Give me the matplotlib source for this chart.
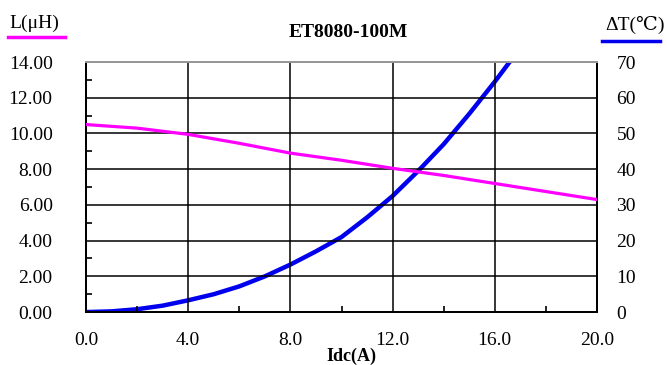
import numpy as np
import matplotlib.pyplot as plt
from matplotlib.lines import Line2D

plt.rcParams['font.family'] = ['Liberation Serif', 'DejaVu Serif']

# inductance curve (left axis)
idc_l = [0, 2, 4, 6, 8, 10, 12, 14, 16, 18, 20]
induct = [10.5, 10.3, 9.95, 9.45, 8.9, 8.5, 8.05, 7.65, 7.2, 6.75, 6.3]

# temperature rise curve (right axis)
idc_t = [0, 1, 2, 3, 4, 5, 6, 7, 8, 9, 10, 11, 12, 13, 14, 15, 16, 17]
temp = [0, 0.2, 0.8, 1.8, 3.3, 5.0, 7.2, 10.0, 13.3, 17.0, 21.0, 26.5,
        32.5, 39.5, 47.0, 55.5, 64.5, 74.0]

x_ticks = [0, 4, 8, 12, 16, 20]
l_ticks = [0, 2, 4, 6, 8, 10, 12, 14]
t_ticks = [0, 10, 20, 30, 40, 50, 60, 70]

fig = plt.figure(figsize=(6.67, 3.65), dpi=100)
ax = fig.add_axes([0.129, 0.145, 0.766, 0.685])
ax2 = ax.twinx()

ax.plot(idc_l, induct, color='#ff00ff', lw=2.3, zorder=3)
ax2.plot(idc_t, temp, color='#0000ee', lw=3.2, zorder=3)

ax.set_xlim(0, 20)
ax.set_ylim(0, 14)
ax2.set_ylim(0, 70)

ax.set_xticks(x_ticks)
ax.set_xticklabels([f'{v:.1f}' for v in x_ticks])
ax.set_xticks([2, 6, 10, 14, 18], minor=True)
ax.set_yticks(l_ticks)
ax.set_yticklabels([f'{v:.2f}' for v in l_ticks])
ax.set_yticks([1, 3, 5, 7, 9, 11, 13], minor=True)
ax2.set_yticks(t_ticks)
ax2.set_yticklabels([str(v) for v in t_ticks])

ax.grid(True, which='major', color='black', lw=1.1)
ax.tick_params(which='both', direction='in', labelsize=14, color='black')
ax.tick_params(which='major', length=0)
ax.tick_params(which='minor', length=4, width=1.2)
ax.tick_params(axis='x', pad=14)
ax.tick_params(axis='y', pad=24)
ax2.tick_params(length=0, labelsize=14, pad=14)

for a in (ax, ax2):
    for s in ['left', 'right', 'bottom']:
        a.spines[s].set_color('black')
        a.spines[s].set_linewidth(1.4)
    a.spines['top'].set_color('#999999')
    a.spines['top'].set_linewidth(1.4)

ax.set_zorder(ax2.get_zorder() + 1)
ax.patch.set_visible(False)

fig.text(0.5225, 0.912, 'ET8080-100M', ha='center', va='center',
         fontsize=14, fontweight='bold')
fig.text(0.527, 0.0, 'Idc(A)', ha='center', va='bottom',
         fontsize=13, fontweight='bold')
fig.text(0.051, 0.937, 'L(μH)', ha='center', va='center', fontsize=14)
fig.text(0.952, 0.932, 'ΔT(℃)', ha='center', va='center', fontsize=14,
         family=['Liberation Serif', 'DejaVu Serif', 'Noto Sans CJK SC'])
fig.add_artist(Line2D([0.012, 0.097], [0.899, 0.899], color='#ff00ff', lw=2.5))
fig.add_artist(Line2D([0.903, 0.99], [0.888, 0.888], color='#0000ee', lw=2.5))

fig.savefig('out.png', dpi=100)
